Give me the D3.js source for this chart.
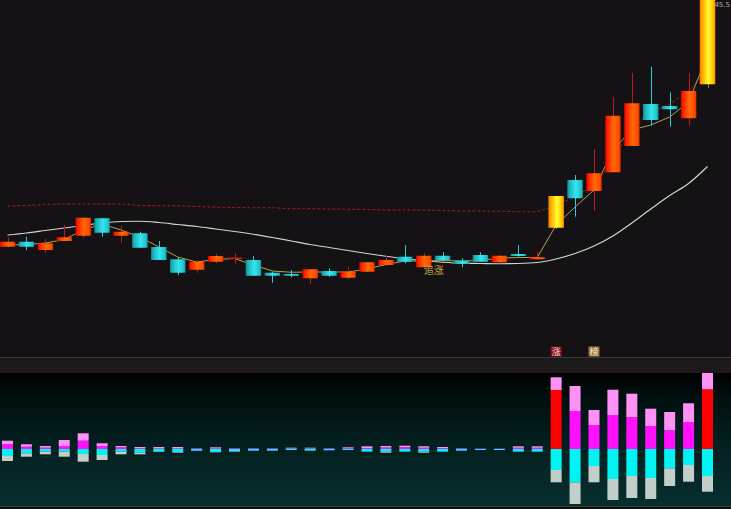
<!DOCTYPE html>
<html><head><meta charset="utf-8">
<script src="https://cdn.jsdelivr.net/npm/d3@7"></script>
<style>html,body{margin:0;padding:0;background:#141214;overflow:hidden}svg{display:block}</style>
</head><body><svg id="c" width="731" height="509"></svg>
<script>
// ---- data ----
const openP  = [35.63,35.83,35.50,35.86,36.07,36.77,36.07,36.17,35.62,35.13,34.71,35.03,35.16,35.10,34.59,34.54,34.37,34.66,34.39,34.63,34.90,35.23,34.81,35.27,35.07,35.30,35.01,35.34,35.13,36.39,38.30,37.86,38.61,39.66,41.34,41.26,40.77,42.13];
const closeP = [35.83,35.63,35.77,36.01,36.79,36.19,36.23,35.59,35.10,34.59,35.03,35.26,35.17,34.47,34.47,34.47,34.73,34.47,34.63,35.01,35.10,35.03,35.27,35.10,34.94,35.03,35.27,35.26,35.21,37.66,37.57,38.57,40.87,41.37,40.70,41.13,41.86,45.50];
const highP  = [36.00,36.03,35.94,36.50,36.79,36.78,36.46,36.23,35.86,35.21,35.09,35.34,35.37,35.26,34.63,34.70,34.73,34.77,34.83,35.02,35.26,35.70,35.37,35.41,35.17,35.41,35.28,35.70,35.43,37.66,38.50,39.53,41.61,42.59,42.83,41.81,42.57,45.50];
const lowP   = [35.62,35.50,35.39,35.86,35.99,36.03,35.79,35.59,35.10,34.50,34.59,34.97,34.93,34.47,34.19,34.41,34.13,34.43,34.34,34.62,34.86,34.97,34.81,35.03,34.81,35.03,35.00,35.23,35.13,36.34,36.83,37.07,38.61,39.66,40.47,40.43,40.47,41.98];
const limitUpDays = [29, 37];
const maLong  = [36.10,36.18,36.28,36.38,36.48,36.58,36.64,36.65,36.60,36.52,36.44,36.34,36.24,36.13,36.00,35.86,35.72,35.60,35.48,35.36,35.25,35.15,35.07,35.01,34.97,34.96,34.95,34.96,35.00,35.14,35.36,35.66,36.06,36.58,37.14,37.68,38.16,38.84];
const maShort = [35.70,35.72,35.78,35.92,36.30,36.54,36.30,36.02,35.62,35.22,35.02,35.12,35.16,34.90,34.66,34.61,34.62,34.62,34.62,34.74,34.92,35.06,35.06,35.08,35.06,35.08,35.18,35.20,35.20,36.50,37.22,37.90,39.50,40.30,40.50,40.82,41.42,43.30];
const maHigh  = [37.26,37.28,37.32,37.34,37.34,37.34,37.34,37.28,37.27,37.27,37.24,37.21,37.20,37.19,37.19,37.15,37.15,37.14,37.13,37.12,37.10,37.10,37.10,37.08,37.06,37.06,37.05,37.03,37.03,37.26,37.66,38.06,39.10,40.38,40.98,41.34,41.86,42.70];
const volPink = [3.6,2.4,1.7,6,7.4,2.7,1.3,1.3,1.5,1.5,0,1.2,0,0,0,0.8,0.8,0,1,1.7,1.5,1.5,1.5,1.2,0,0,0,1.5,1.5,12.7,25,15,25.3,23.6,17.3,18.3,18.7,16.3];
const volMid  = [4.7,2.3,1.3,3,8.3,3,1.7,0.7,0.5,0.5,0.8,0.5,0.8,0.8,0.8,0.5,0.5,0.8,0.7,1,1.5,1.8,1.2,0.8,0.8,0.5,0.5,1.2,1.2,59,38,24,34,31.7,23,18.7,27,59.7];
const volCyan = [7,4.3,2.7,2.7,5,6,2.7,3.7,2.7,3.3,1.8,3,2.3,1.7,1.7,1,1.7,1.3,1,2.7,2.7,2.7,2.7,2.7,1.7,1,1,2.7,2.7,21,33.3,17,30,27,29,19.3,16,27];
const volGray = [5,3.4,2.6,5,7.7,5,2.6,1.6,0.3,0.5,0,0.3,0.5,0,0,0,0,0,0,0,1,0,1,0,0,0,0,0,0,12.3,21.7,16.3,21,22,21,17.7,16.7,15.7];
const signalDays  = [29, 31];
const signalTexts = ["涨", "榜"];
const noteDay = 22, noteText = "追涨";
const topPriceLabel = "45.5";

// ---- drawing ----
const W = 731, H = 509, mainBottom = 357, subTop = 373, subBottom = 506;
const svg = d3.select("#c");
const defs = svg.append("defs");
function grad(id, stops, vertical) {
  const g = defs.append("linearGradient").attr("id", id)
    .attr("x1", 0).attr("y1", 0).attr("x2", vertical ? 0 : 1).attr("y2", vertical ? 1 : 0);
  stops.forEach(s => g.append("stop").attr("offset", s[0]).attr("stop-color", s[1]));
}
grad("gUp",   [[0,"#b00800"],[0.12,"#ff1a00"],[0.55,"#ff6a08"],[0.88,"#ff4a00"],[1,"#d82800"]]);
grad("gDown", [[0,"#168892"],[0.15,"#1cb4bc"],[0.55,"#34e6ee"],[0.88,"#20c4cc"],[1,"#168c98"]]);
grad("gLim",  [[0,"#ff7a00"],[0.2,"#ffb000"],[0.55,"#ffff30"],[0.85,"#ffc400"],[1,"#ff8a00"]]);
grad("gSub",  [[0,"#000000"],[0.15,"#010d0d"],[0.5,"#041e1e"],[1,"#062f2e"]], true);
defs.append("clipPath").attr("id","clipMain").append("rect").attr("x",0).attr("y",0).attr("width",W).attr("height",mainBottom);

svg.append("rect").attr("x",0).attr("y",0).attr("width",W).attr("height",mainBottom).attr("fill","#141214");
svg.append("rect").attr("x",0).attr("y",mainBottom).attr("width",W).attr("height",subTop-mainBottom).attr("fill","#1b1919");
svg.append("rect").attr("x",0).attr("y",subTop).attr("width",W).attr("height",subBottom-subTop).attr("fill","url(#gSub)");
svg.append("rect").attr("x",0).attr("y",subBottom).attr("width",W).attr("height",H-subBottom).attr("fill","#101010");
svg.append("line").attr("x1",0).attr("x2",W).attr("y1",mainBottom+0.5).attr("y2",mainBottom+0.5).attr("stroke","#3c3a3a");
svg.append("line").attr("x1",0).attr("x2",W).attr("y1",subBottom+0.5).attr("y2",subBottom+0.5).attr("stroke","#3a3a3a");

const n = openP.length;
const x = d3.scalePoint().domain(d3.range(n)).range([7.5, 707.5]);
const y = d3.scaleLinear().domain([45.5 - mainBottom*0.04, 45.5]).range([mainBottom, 0]);
const yv = d3.scaleLinear().domain([-60, 76]).range([509, 373]);

const main = svg.append("g").attr("clip-path","url(#clipMain)");

// red dashed line
main.append("path").datum(maHigh)
  .attr("d", d3.line().x((d,i)=>x(i)).y(d=>y(d)))
  .attr("fill","none").attr("stroke","#a81a1a").attr("stroke-width",1).attr("stroke-dasharray","3,2");
// white long MA
main.append("path").datum(maLong)
  .attr("d", d3.line().x((d,i)=>x(i)).y(d=>y(d)).curve(d3.curveMonotoneX))
  .attr("fill","none").attr("stroke","#d4d4d4").attr("stroke-width",1.2);
// yellow short MA
main.append("path").datum(maShort)
  .attr("d", d3.line().x((d,i)=>x(i)).y(d=>y(d)))
  .attr("fill","none").attr("stroke","#b4a050").attr("stroke-width",1);

const cw = 15.5;
const kind = i => limitUpDays.includes(i) ? "lim" : (closeP[i] >= openP[i] ? "up" : "down");
const wickColor = {up:"#c41616", down:"#2ccdd6", lim:"#e06000"};
const fillColor = {up:"url(#gUp)", down:"url(#gDown)", lim:"url(#gLim)"};
const cg = main.append("g");
d3.range(n).forEach(i => {
  const k = kind(i);
  cg.append("line").attr("x1",Math.round(x(i))+0.5).attr("x2",Math.round(x(i))+0.5)
    .attr("y1",y(highP[i])).attr("y2",y(lowP[i])).attr("stroke",wickColor[k]).attr("stroke-width",1);
  const top = y(Math.max(openP[i],closeP[i])), bot = y(Math.min(openP[i],closeP[i]));
  const h = Math.max(1.2, bot-top);
  if (h < 1.5 && k==="up") {
    cg.append("line").attr("x1",x(i)-cw/2).attr("x2",x(i)+cw/2).attr("y1",top).attr("y2",top)
      .attr("stroke","#d01a10").attr("stroke-width",1.5);
  } else {
    cg.append("rect").attr("x",x(i)-cw/2).attr("y",top).attr("width",cw).attr("height",h).attr("fill",fillColor[k]);
  }
});

// note text
main.append("text").attr("x",x(noteDay)).attr("y",y(lowP[noteDay])+7)
  .attr("font-family","'Noto Sans CJK SC'").attr("font-size",10).attr("fill","#c8aa44").text(noteText);

// top-right price
svg.append("text").attr("x",730).attr("y",7).attr("text-anchor","end").attr("font-family","'DejaVu Sans'").attr("font-size",7)
  .attr("fill","#b0b0b0").text(topPriceLabel);

// signal boxes
const sigColors = [["#8c0c16","#f4d6d6"],["#9a7434","#fbeed0"]];
signalDays.forEach((d,j) => {
  const cx = x(d);
  svg.append("rect").attr("x",cx-5.5).attr("y",346.5).attr("width",11).attr("height",10).attr("fill",sigColors[j][0]);
  svg.append("text").attr("x",cx).attr("y",355).attr("text-anchor","middle")
    .attr("font-family","'Noto Sans CJK SC'").attr("font-size",9).attr("fill",sigColors[j][1]).text(signalTexts[j]);
});

// bottom stacked bars
const bw = 11;
const bg = svg.append("g");
d3.range(n).forEach(i => {
  const lim = limitUpDays.includes(i);
  const mid = volMid[i], pk = volPink[i], cy = volCyan[i], gr = volGray[i];
  const segs = [
    [0, mid, lim ? "#ff0000" : "#ff10ff"],
    [mid, mid+pk, "#ff90f4"],
    [-cy, 0, "#00f4f4"],
    [-cy-gr, -cy, "#c2cfc8"]
  ];
  segs.forEach(s => {
    if (s[1]-s[0] <= 0) return;
    bg.append("rect").attr("x",x(i)-bw/2).attr("y",yv(s[1])).attr("width",bw)
      .attr("height",yv(s[0])-yv(s[1])).attr("fill",s[2]);
  });
});
</script>
</body></html>
